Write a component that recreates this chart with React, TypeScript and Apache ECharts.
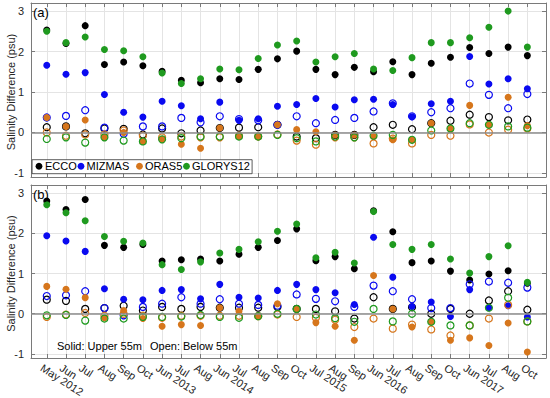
import React, { useEffect, useRef } from "react";
import * as echarts from "echarts";

const categories = [
  "May 2012", "Jun", "Jul", "Aug", "Sep", "Oct",
  "Jun 2013", "Jul", "Aug",
  "Jun 2014", "Jul", "Aug", "Sep", "Oct",
  "Jul 2015", "Aug", "Sep",
  "Jun 2016", "Jul", "Aug", "Sep", "Oct",
  "Jun 2017", "Jul", "Aug", "Oct",
];
const yTicks = [-1, 0, 1, 2, 3];
const models = ["ECCO", "MIZMAS", "ORAS5", "GLORYS12"];

const aEccoSolid = [2.53, 2.2, 2.64, 1.68, 1.74, 1.65, 1.51, 1.29, 1.23, 1.33, 1.31, 1.56, 1.82, 2.01, 1.56, 1.43, 1.61, 1.5, 1.75, 1.43, 1.71, 1.86, 2.1, 1.95, 2.11, 1.9];
const aMizSolid = [1.66, 1.44, 1.48, 0.94, 0.5, 0.38, 0.77, 0.66, 0.34, 0.75, 0.3, 0.34, 0.65, 0.69, 0.84, 0.63, 0.81, 0.82, 0.69, 0.39, 0.71, 0.77, 1.88, 1.2, 1.33, 1.08];
const aOraSolid = [0.37, 0.15, 0.31, -0.12, 0.0, -0.22, -0.17, -0.29, -0.39, 0.11, -0.1, -0.1, 0.19, 0.07, 0.02, -0.06, -0.06, -0.1, -0.18, -0.18, 0.23, 0.1, 0.67, 0.19, 0.87, 0.17];
const aGloSolid = [2.5, 2.22, 2.36, 2.05, 2.02, 1.87, 1.47, 1.21, 1.33, 1.57, 1.55, 1.83, 2.16, 2.26, 1.74, 1.87, 1.95, 1.57, 1.53, 1.85, 2.22, 2.22, 2.34, 2.6, 3.0, 2.11];
const aEccoOpen = [0.13, 0.15, -0.02, 0.1, 0.09, -0.05, 0.1, -0.02, 0.05, 0.11, 0.12, 0.13, 0.19, -0.1, -0.14, -0.06, -0.06, 0.13, 0.19, 0.08, 0.23, 0.29, 0.44, 0.38, 0.3, 0.32];
const aMizOpen = [0.37, 0.41, 0.55, 0.12, -0.03, 0.15, 0.15, 0.36, 0.25, 0.4, 0.33, 0.3, 0.19, 0.4, 0.23, 0.31, 0.36, 0.52, 0.72, 0.4, 0.5, 0.6, 1.21, 0.93, 0.6, 0.95];
const aOraOpen = [0.0, -0.08, -0.05, -0.05, 0.05, -0.08, -0.12, -0.1, -0.12, -0.12, -0.08, -0.1, -0.05, -0.2, -0.3, -0.12, -0.12, -0.27, -0.15, -0.27, -0.06, -0.08, 0.2, 0.0, 0.07, 0.1];
const aGloOpen = [-0.16, -0.12, -0.25, -0.12, -0.2, -0.22, -0.17, -0.14, -0.1, -0.1, -0.1, -0.1, -0.06, -0.14, -0.22, -0.1, -0.12, -0.08, -0.06, -0.18, 0.05, 0.1, 0.23, 0.19, 0.15, 0.12];

const bEccoSolid = [2.8, 2.59, 2.84, 1.7, 1.65, 1.72, 1.31, 1.34, 1.36, 1.31, 1.48, 1.65, 1.82, 2.11, 1.32, 1.42, 1.12, 2.56, 2.04, 1.27, 1.31, 1.06, 0.84, 0.99, 1.07, 0.76];
const bMizSolid = [1.94, 1.81, 1.55, 0.62, 0.36, 0.35, 0.58, 0.6, 0.37, 0.73, 0.41, 0.39, 0.58, 0.73, 0.6, 0.52, 0.23, 1.9, 0.91, 0.18, 0.29, -0.07, 0.6, 0.15, 0.2, -0.08];
const bOraSolid = [0.68, 0.61, 0.4, -0.1, 0.08, -0.12, -0.31, -0.27, -0.29, 0.15, 0.06, -0.06, 0.25, 0.12, -0.22, -0.31, -0.66, 0.95, 0.12, -0.33, -0.2, -0.66, -0.6, -0.79, -0.23, -0.95];
const bGloSolid = [2.71, 2.51, 2.31, 1.92, 1.8, 1.76, 1.22, 1.1, 1.29, 1.51, 1.6, 1.79, 2.05, 2.23, 1.39, 1.53, 1.26, 2.54, 1.72, 1.6, 1.72, 1.36, 1.01, 1.42, 1.69, 0.78];
const bEccoOpen = [0.35, 0.32, 0.12, 0.14, 0.2, 0.08, 0.17, 0.12, 0.17, 0.15, 0.15, 0.15, 0.17, 0.12, 0.12, 0.06, -0.12, 0.41, 0.12, 0.16, 0.0, 0.12, 0.0, 0.33, 0.56, 0.1];
const bMizOpen = [0.44, 0.46, 0.56, 0.14, -0.04, 0.17, 0.25, 0.41, 0.25, 0.36, 0.25, 0.22, 0.2, 0.48, 0.37, 0.31, 0.17, 0.7, 0.56, 0.36, 0.14, 0.14, 0.73, 0.8, 0.77, 0.65];
const bOraOpen = [-0.08, -0.02, 0.02, -0.05, 0.0, -0.05, -0.1, -0.05, -0.05, -0.05, -0.05, -0.06, -0.02, -0.08, -0.1, -0.15, -0.33, -0.12, -0.37, -0.27, -0.39, -0.54, -0.29, -0.12, 0.22, -0.19];
const bGloOpen = [-0.04, -0.03, -0.17, -0.12, -0.12, -0.08, -0.08, -0.07, -0.03, -0.08, -0.1, -0.06, 0.0, 0.12, -0.02, -0.11, -0.2, 0.12, -0.19, 0.0, -0.2, -0.29, -0.29, 0.15, 0.4, -0.19];

const COLORS = ["#000000", "#0a0af0", "#d6761c", "#1f9a1f"];
const FONT = "'Liberation Sans', Arial, Helvetica, sans-serif";
const AXIS_COLOR = "#7a7a7a";
const TEXT_COLOR = "#262626";

const X_MIN = 0.18;
const X_MAX = 26.97;
const Y_MIN = -1.1;
const Y_MAX = 3.2;

export default function App() {
  const ref = useRef<HTMLDivElement>(null);

  useEffect(() => {
    if (!ref.current) return;
    const chart = echarts.init(ref.current, null, { renderer: "svg" });
    const xs = categories.map((_, i) => i + 1);
    const toData = (arr: number[]) => arr.map((v, i) => [xs[i], v]);

    const panels = [
      { solid: [aEccoSolid, aMizSolid, aOraSolid, aGloSolid], open: [aEccoOpen, aMizOpen, aOraOpen, aGloOpen] },
      { solid: [bEccoSolid, bMizSolid, bOraSolid, bGloSolid], open: [bEccoOpen, bMizOpen, bOraOpen, bGloOpen] },
    ];

    const fixed = { containLabel: false, outerBoundsMode: "none" };
    const panelRects = [
      { left: 31, top: 3, width: 515, height: 174 },
      { left: 31, top: 185, width: 515, height: 173 },
    ];
    const labelGrid = (r: { left: number; top: number; width: number; height: number }) => {
      const span = Y_MAX - Y_MIN;
      const top = r.top + ((Y_MAX - 3) / span) * r.height;
      const bottom = r.top + ((Y_MAX + 1) / span) * r.height;
      return { left: r.left, top, width: r.width, height: bottom - top };
    };
    const xLabelGrid = { left: 29, top: 185, width: 515, height: 173, ...fixed };
    const grids: any[] = [
      { ...panelRects[0], ...fixed },
      { ...panelRects[1], ...fixed },
      xLabelGrid,
      { ...labelGrid(panelRects[0]), ...fixed },
      { ...labelGrid(panelRects[1]), ...fixed },
      { ...xLabelGrid },
    ];

    const xAxes: any[] = [];
    const yAxes: any[] = [];
    [0, 1].forEach((g) => {
      const base = {
        type: "value",
        gridIndex: g,
        min: X_MIN,
        max: X_MAX,
        axisLine: { show: true, onZero: false, lineStyle: { color: AXIS_COLOR, width: 1 } },
        axisTick: { show: true, inside: true, length: 4, customValues: xs, lineStyle: { color: AXIS_COLOR } },
      };
      xAxes.push({ ...base, position: "bottom", splitLine: { show: true, lineStyle: { color: "#e4e4e4", width: 1 } }, axisLabel: { show: false } });
      xAxes.push({ ...base, position: "top", splitLine: { show: false }, axisLabel: { show: false } });
      const ybase = {
        type: "value",
        gridIndex: g,
        min: Y_MIN,
        max: Y_MAX,
        axisLine: { show: true, onZero: false, lineStyle: { color: AXIS_COLOR, width: 1 } },
        axisTick: { show: true, inside: true, length: 4, customValues: yTicks, lineStyle: { color: AXIS_COLOR } },
        axisLabel: { show: false },
      };
      yAxes.push({ ...ybase, position: "left", splitLine: { show: true, lineStyle: { color: "#e4e4e4", width: 1 } } });
      yAxes.push({ ...ybase, position: "right", splitLine: { show: false } });
    });

    // rotated month labels, split over two label axes so no label is hidden as an overlap
    const labelAxis = (gridIndex: number, values: number[]) => ({
      type: "value",
      gridIndex,
      min: X_MIN,
      max: X_MAX,
      position: "bottom",
      axisLine: { show: false },
      axisTick: { show: false },
      splitLine: { show: false },
      axisLabel: {
        show: true,
        customValues: values,
        showMinLabel: true,
        showMaxLabel: true,
        hideOverlap: false,
        rotate: -33,
        align: "left",
        verticalAlign: "top",
        margin: 4,
        fontSize: 11,
        fontFamily: FONT,
        color: TEXT_COLOR,
        formatter: (v: number) => categories[Math.round(v) - 1] ?? "",
      },
    });
    const evenXs = xs.filter((_, i) => i % 2 === 0);
    const oddXs = xs.filter((_, i) => i % 2 === 1);

    xAxes.push(labelAxis(2, evenXs));
    yAxes.push({ type: "value", gridIndex: 2, min: Y_MIN, max: Y_MAX, show: false });
    [3, 4].forEach((g) => {
      xAxes.push({ type: "value", gridIndex: g, min: 0, max: 1, show: false });
      yAxes.push({
        type: "value",
        gridIndex: g,
        position: "left",
        min: -1,
        max: 3,
        interval: 1,
        axisLine: { show: false },
        axisTick: { show: false },
        splitLine: { show: false },
        name: "Salinity Difference (psu)",
        nameLocation: "middle",
        nameGap: 15,
        nameRotate: 90,
        nameMoveOverlap: false,
        nameTextStyle: { fontSize: 11, fontFamily: FONT, color: TEXT_COLOR },
        axisLabel: {
          show: true,
          showMinLabel: true,
          showMaxLabel: true,
          hideOverlap: false,
          margin: 7,
          fontSize: 11,
          fontFamily: FONT,
          color: TEXT_COLOR,
        },
      });
    });
    xAxes.push(labelAxis(5, oddXs));
    yAxes.push({ type: "value", gridIndex: 5, min: Y_MIN, max: Y_MAX, show: false });

    const series: any[] = [];
    panels.forEach((p, g) => {
      series.push({
        type: "scatter",
        name: "zero" + g,
        xAxisIndex: g * 2,
        yAxisIndex: g * 2,
        data: [],
        silent: true,
        z: 1,
        markLine: {
          silent: true,
          symbol: "none",
          label: { show: false },
          lineStyle: { color: "#8c8c8c", width: 1.5, type: "solid" },
          data: [{ yAxis: 0 }],
        },
      });
      models.forEach((m, k) => {
        series.push({
          type: "scatter", name: m, xAxisIndex: g * 2, yAxisIndex: g * 2,
          symbol: "circle", symbolSize: 7,
          itemStyle: { color: COLORS[k], opacity: 1 },
          data: toData(p.solid[k]), z: 2,
        });
        series.push({
          type: "scatter", name: m + " open", xAxisIndex: g * 2, yAxisIndex: g * 2,
          symbol: "circle", symbolSize: 7,
          itemStyle: { color: "rgba(0,0,0,0)", borderColor: COLORS[k], borderWidth: 1.2, opacity: 1 },
          data: toData(p.open[k]), z: 2,
        });
      });
    });

    const legendDotLeft = [35.6, 77.6, 136.1, 183.1];
    const legendTextLeft = [45, 86.5, 145, 192];
    const legendGraphics: any[] = [
      {
        type: "rect", left: 31.7, top: 159.3,
        shape: { x: 0, y: 0, width: 220, height: 14 },
        style: { fill: "#ffffff", stroke: "#333333", lineWidth: 0.8 }, z: 100,
      },
    ];
    models.forEach((m, k) => {
      legendGraphics.push({
        type: "circle", left: legendDotLeft[k], top: 162.9,
        shape: { cx: 3.4, cy: 3.4, r: 3.4 }, style: { fill: COLORS[k] }, z: 101,
      });
      legendGraphics.push({
        type: "text", left: legendTextLeft[k], top: 160,
        style: { text: m, fontSize: 11, fontFamily: FONT, fill: "#000" }, z: 101,
      });
    });

    chart.setOption({
      animation: false,
      backgroundColor: "#ffffff",
      grid: grids,
      xAxis: xAxes,
      yAxis: yAxes,
      graphic: [
        ...legendGraphics,
        { type: "text", left: 33, top: 6, style: { text: "(a)", fontSize: 13, fontFamily: FONT, fill: "#000" }, z: 101 },
        { type: "text", left: 33, top: 188, style: { text: "(b)", fontSize: 13, fontFamily: FONT, fill: "#000" }, z: 101 },
        { type: "text", left: 57, top: 340, style: { text: "Solid: Upper 55m", fontSize: 11, fontFamily: FONT, fill: "#000" }, z: 101 },
        { type: "text", left: 150, top: 340, style: { text: "Open: Below 55m", fontSize: 11, fontFamily: FONT, fill: "#000" }, z: 101 },
      ],
      series,
    });

    return () => chart.dispose();
  }, []);

  return <div ref={ref} style={{ position: "absolute", left: 0, top: 0, width: 550, height: 398 }} />;
}
